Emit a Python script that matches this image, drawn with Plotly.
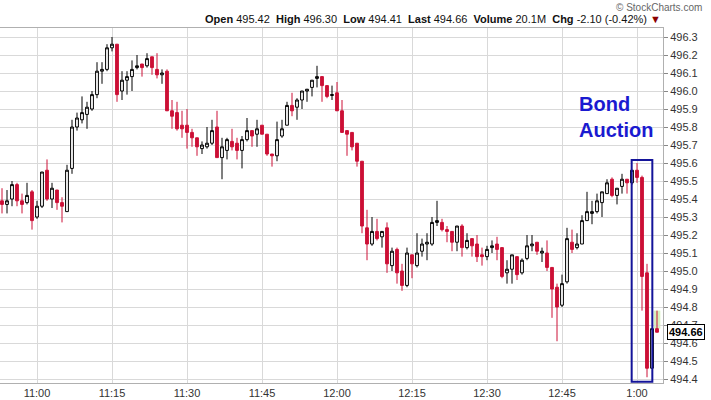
import pandas as pd
import plotly.graph_objects as go

# 1-minute candles, 10:53 .. 13:04
opens = [495.39, 495.37, 495.40, 495.48, 495.39, 495.38, 495.44, 495.30, 495.36, 495.56,
         495.40, 495.45, 495.38, 495.33, 495.57, 495.80, 495.84, 495.87, 495.90, 495.98,
         496.11, 496.12, 496.24, 496.26, 496.00, 496.06, 496.08, 496.13, 496.15, 496.14,
         496.19, 496.12, 496.09, 496.11, 495.89, 495.88, 495.81, 495.81, 495.77, 495.74,
         495.68, 495.69, 495.71, 495.80, 495.63, 495.67, 495.72, 495.71, 495.67, 495.73,
         495.78, 495.76, 495.81, 495.76, 495.65, 495.64, 495.75, 495.81, 495.92, 495.91,
         495.95, 496.00, 496.02, 496.07, 496.08, 496.03, 495.975, 495.99, 495.89, 495.78,
         495.77, 495.71, 495.61, 495.24, 495.15, 495.22, 495.19, 495.24, 495.03, 495.12,
         495.00, 494.92, 495.09, 495.03, 495.11, 495.15, 495.15, 495.27, 495.27, 495.23,
         495.22, 495.16, 495.25, 495.13, 495.18, 495.15, 495.09, 495.08, 495.13, 495.15,
         495.13, 494.99, 495.01, 495.08, 494.99, 495.07, 495.14, 495.16, 495.10, 495.10,
         495.02, 494.91, 494.81, 494.94, 495.16, 495.13, 495.15, 495.28, 495.32, 495.33,
         495.38, 495.43, 495.51, 495.42, 495.47, 495.51, 495.49, 495.56, 495.52, 494.99,
         494.46, 494.68]
highs = [495.46, 495.45, 495.50, 495.49, 495.43, 495.49, 495.45, 495.39, 495.55, 495.62,
         495.49, 495.45, 495.41, 495.59, 495.84, 495.88, 495.97, 495.94, 496.00, 496.16,
         496.16, 496.26, 496.30, 496.26, 496.11, 496.11, 496.17, 496.20, 496.15, 496.21,
         496.19, 496.21, 496.12, 496.12, 495.95, 495.94, 495.89, 495.90, 495.79, 495.74,
         495.72, 495.80, 495.84, 495.89, 495.74, 495.74, 495.79, 495.74, 495.75, 495.85,
         495.78, 495.84, 495.81, 495.76, 495.65, 495.83, 495.84, 495.94, 495.99, 495.96,
         496.00, 496.01, 496.06, 496.14, 496.08, 496.03, 496.03, 496.05, 495.95, 495.78,
         495.77, 495.71, 495.61, 495.34, 495.30, 495.29, 495.22, 495.27, 495.13, 495.13,
         495.04, 495.13, 495.09, 495.21, 495.18, 495.21, 495.30, 495.39, 495.29, 495.25,
         495.22, 495.25, 495.26, 495.21, 495.18, 495.20, 495.13, 495.14, 495.17, 495.19,
         495.13, 495.06, 495.09, 495.08, 495.07, 495.20, 495.20, 495.16, 495.13, 495.17,
         495.02, 494.93, 494.98, 495.24, 495.23, 495.21, 495.31, 495.44, 495.39, 495.43,
         495.44, 495.51, 495.52, 495.46, 495.54, 495.51, 495.56, 495.60, 495.53, 495.04,
         494.68, 494.78]
lows = [495.32, 495.32, 495.36, 495.36, 495.32, 495.37, 495.23, 495.29, 495.35, 495.39,
        495.35, 495.34, 495.27, 495.33, 495.54, 495.78, 495.82, 495.79, 495.89, 495.96,
        496.04, 496.11, 496.22, 495.94, 495.95, 495.98, 496.00, 496.12, 496.08, 496.13,
        496.09, 496.07, 496.04, 495.89, 495.79, 495.78, 495.74, 495.68, 495.69, 495.64,
        495.65, 495.68, 495.70, 495.63, 495.51, 495.62, 495.67, 495.62, 495.57, 495.72,
        495.69, 495.69, 495.76, 495.64, 495.58, 495.61, 495.74, 495.81, 495.86, 495.84,
        495.90, 495.94, 495.97, 496.02, 495.94, 495.96, 495.95, 495.89, 495.77, 495.64,
        495.67, 495.58, 495.21, 495.06, 495.14, 495.17, 495.13, 494.99, 495.00, 494.93,
        494.89, 494.91, 494.96, 495.02, 495.08, 495.06, 495.14, 495.25, 495.22, 495.16,
        495.11, 495.11, 495.08, 495.12, 495.08, 495.05, 495.03, 495.06, 495.10, 495.06,
        494.96, 494.93, 494.93, 494.95, 494.98, 495.06, 495.11, 495.09, 495.05, 495.00,
        494.74, 494.61, 494.80, 494.93, 495.10, 495.12, 495.15, 495.28, 495.26, 495.32,
        495.30, 495.43, 495.41, 495.37, 495.43, 495.43, 495.48, 495.49, 494.78, 494.41,
        494.46, 494.66]
closes = [495.37, 495.39, 495.48, 495.39, 495.37, 495.42, 495.28, 495.36, 495.55, 495.40,
          495.46, 495.38, 495.36, 495.56, 495.80, 495.85, 495.88, 495.91, 495.98, 496.11,
          496.12, 496.24, 496.26, 495.98, 496.06, 496.08, 496.12, 496.14, 496.13, 496.18,
          496.13, 496.09, 496.10, 495.89, 495.86, 495.79, 495.79, 495.77, 495.74, 495.69,
          495.70, 495.71, 495.78, 495.63, 495.69, 495.73, 495.69, 495.67, 495.73, 495.78,
          495.75, 495.79, 495.76, 495.65, 495.64, 495.73, 495.79, 495.92, 495.89, 495.95,
          496.00, 496.01, 496.06, 496.08, 496.03, 495.97, 495.98, 495.89, 495.77, 495.76,
          495.69, 495.61, 495.25, 495.15, 495.22, 495.18, 495.22, 495.04, 495.11, 494.99,
          494.92, 495.10, 495.04, 495.10, 495.15, 495.16, 495.27, 495.28, 495.23, 495.22,
          495.16, 495.25, 495.13, 495.17, 495.14, 495.08, 495.08, 495.12, 495.14, 495.12,
          494.97, 495.01, 495.09, 494.98, 495.06, 495.14, 495.15, 495.11, 495.11, 495.02,
          494.90, 494.80, 494.93, 495.18, 495.12, 495.15, 495.28, 495.33, 495.33, 495.39,
          495.44, 495.49, 495.42, 495.46, 495.51, 495.49, 495.56, 495.52, 494.97, 494.46,
          494.68, 494.66]

first_bar = "2024-01-02 10:53"
x_start, x_end = "2024-01-02 10:52:36", "2024-01-02 13:05:12"
y_low, y_high = 494.378, 496.35

tick_times = ["11:00", "11:15", "11:30", "11:45", "12:00", "12:15", "12:30", "12:45", "13:00"]
tick_text = ["11:00", "11:15", "11:30", "11:45", "12:00", "12:15", "12:30", "12:45", "1:00"]

header = [("Open", "495.42"), ("High", "496.30"), ("Low", "494.41"), ("Last", "494.66"),
          ("Volume", "20.1M"), ("Chg", "-2.10 (-0.42%)")]
last_price = closes[-1]

# auction box
box_t0, box_t1 = "2024-01-02 12:58:56", "2024-01-02 13:03:04"
box_lo, box_hi = 494.385, 495.617

red = "#cc1036"
font = "Liberation Sans, Arial"
times = pd.date_range(first_bar, periods=len(closes), freq="min")

fig = go.Figure()

# pale green highlight behind the live candle
fig.add_shape(type="rect", xref="x", yref="y",
              x0=times[-1] - pd.Timedelta(seconds=40), x1=times[-1] + pd.Timedelta(seconds=40),
              y0=opens[-1], y1=highs[-1], fillcolor="#d6f2bf", line_width=0, layer="below")

fig.add_trace(go.Candlestick(
    x=times, open=opens, high=highs, low=lows, close=closes,
    increasing=dict(line=dict(color="black", width=1), fillcolor="white"),
    decreasing=dict(line=dict(color=red, width=1), fillcolor=red),
    whiskerwidth=0,
    hoverinfo="none",
))

fig.add_shape(type="rect", xref="x", yref="y", x0=box_t0, x1=box_t1, y0=box_lo, y1=box_hi,
              line=dict(color="#14149a", width=2))

fig.add_annotation(xref="paper", yref="paper", x=577 / 663, y=(383 - 91) / 355,
                   xanchor="left", yanchor="top", align="left", showarrow=False,
                   text="<b>Bond<br>Auction</b>",
                   font=dict(family=font, size=20, color="#1a1ad0"))

head_txt = "  ".join(f"<b>{k}</b> {v}" for k, v in header)
head_txt += ' <span style="color:#8b0000">▼</span>'
fig.add_annotation(xref="paper", yref="paper", x=1.0, y=1 + (28 - 19) / 355,
                   xanchor="right", yanchor="middle", showarrow=False, text=head_txt,
                   font=dict(family=font, size=11, color="#111"))
fig.add_annotation(xref="paper", yref="paper", x=704 / 663, y=1 + (28 - 7) / 355,
                   xanchor="right", yanchor="middle", showarrow=False, text="© StockCharts.com",
                   font=dict(family=font, size=10, color="#666"))

fig.add_annotation(xref="paper", yref="y", x=1 + 4 / 663, y=last_price,
                   xanchor="left", yanchor="middle", showarrow=False,
                   text=f"<b>{last_price:.2f}</b>", bgcolor="white",
                   bordercolor="black", borderwidth=1, borderpad=1,
                   font=dict(family=font, size=11, color="black"))

fig.update_layout(
    width=711, height=400,
    margin=dict(l=0, r=48, t=28, b=17),
    paper_bgcolor="white", plot_bgcolor="white",
    showlegend=False, boxgap=0.2,
    xaxis=dict(
        range=[x_start, x_end], rangeslider=dict(visible=False),
        tickvals=["2024-01-02 " + t for t in tick_times], ticktext=tick_text,
        showgrid=True, gridcolor="#d9d9d9", gridwidth=1,
        showline=True, linecolor="#b0b0b0", mirror=True, ticks="",
        tickfont=dict(family=font, size=11, color="#333"),
    ),
    yaxis=dict(
        side="right", range=[y_low, y_high], dtick=0.1, tick0=494.4, tickformat=".1f",
        showgrid=True, gridcolor="#d9d9d9", gridwidth=1,
        showline=True, linecolor="#b0b0b0", mirror=True,
        ticks="outside", ticklen=4, tickcolor="#888",
        tickfont=dict(family=font, size=11, color="#333"),
    ),
)

fig.write_html("out.html", config={"displayModeBar": False},
               post_script="document.body.style.margin='0';")
